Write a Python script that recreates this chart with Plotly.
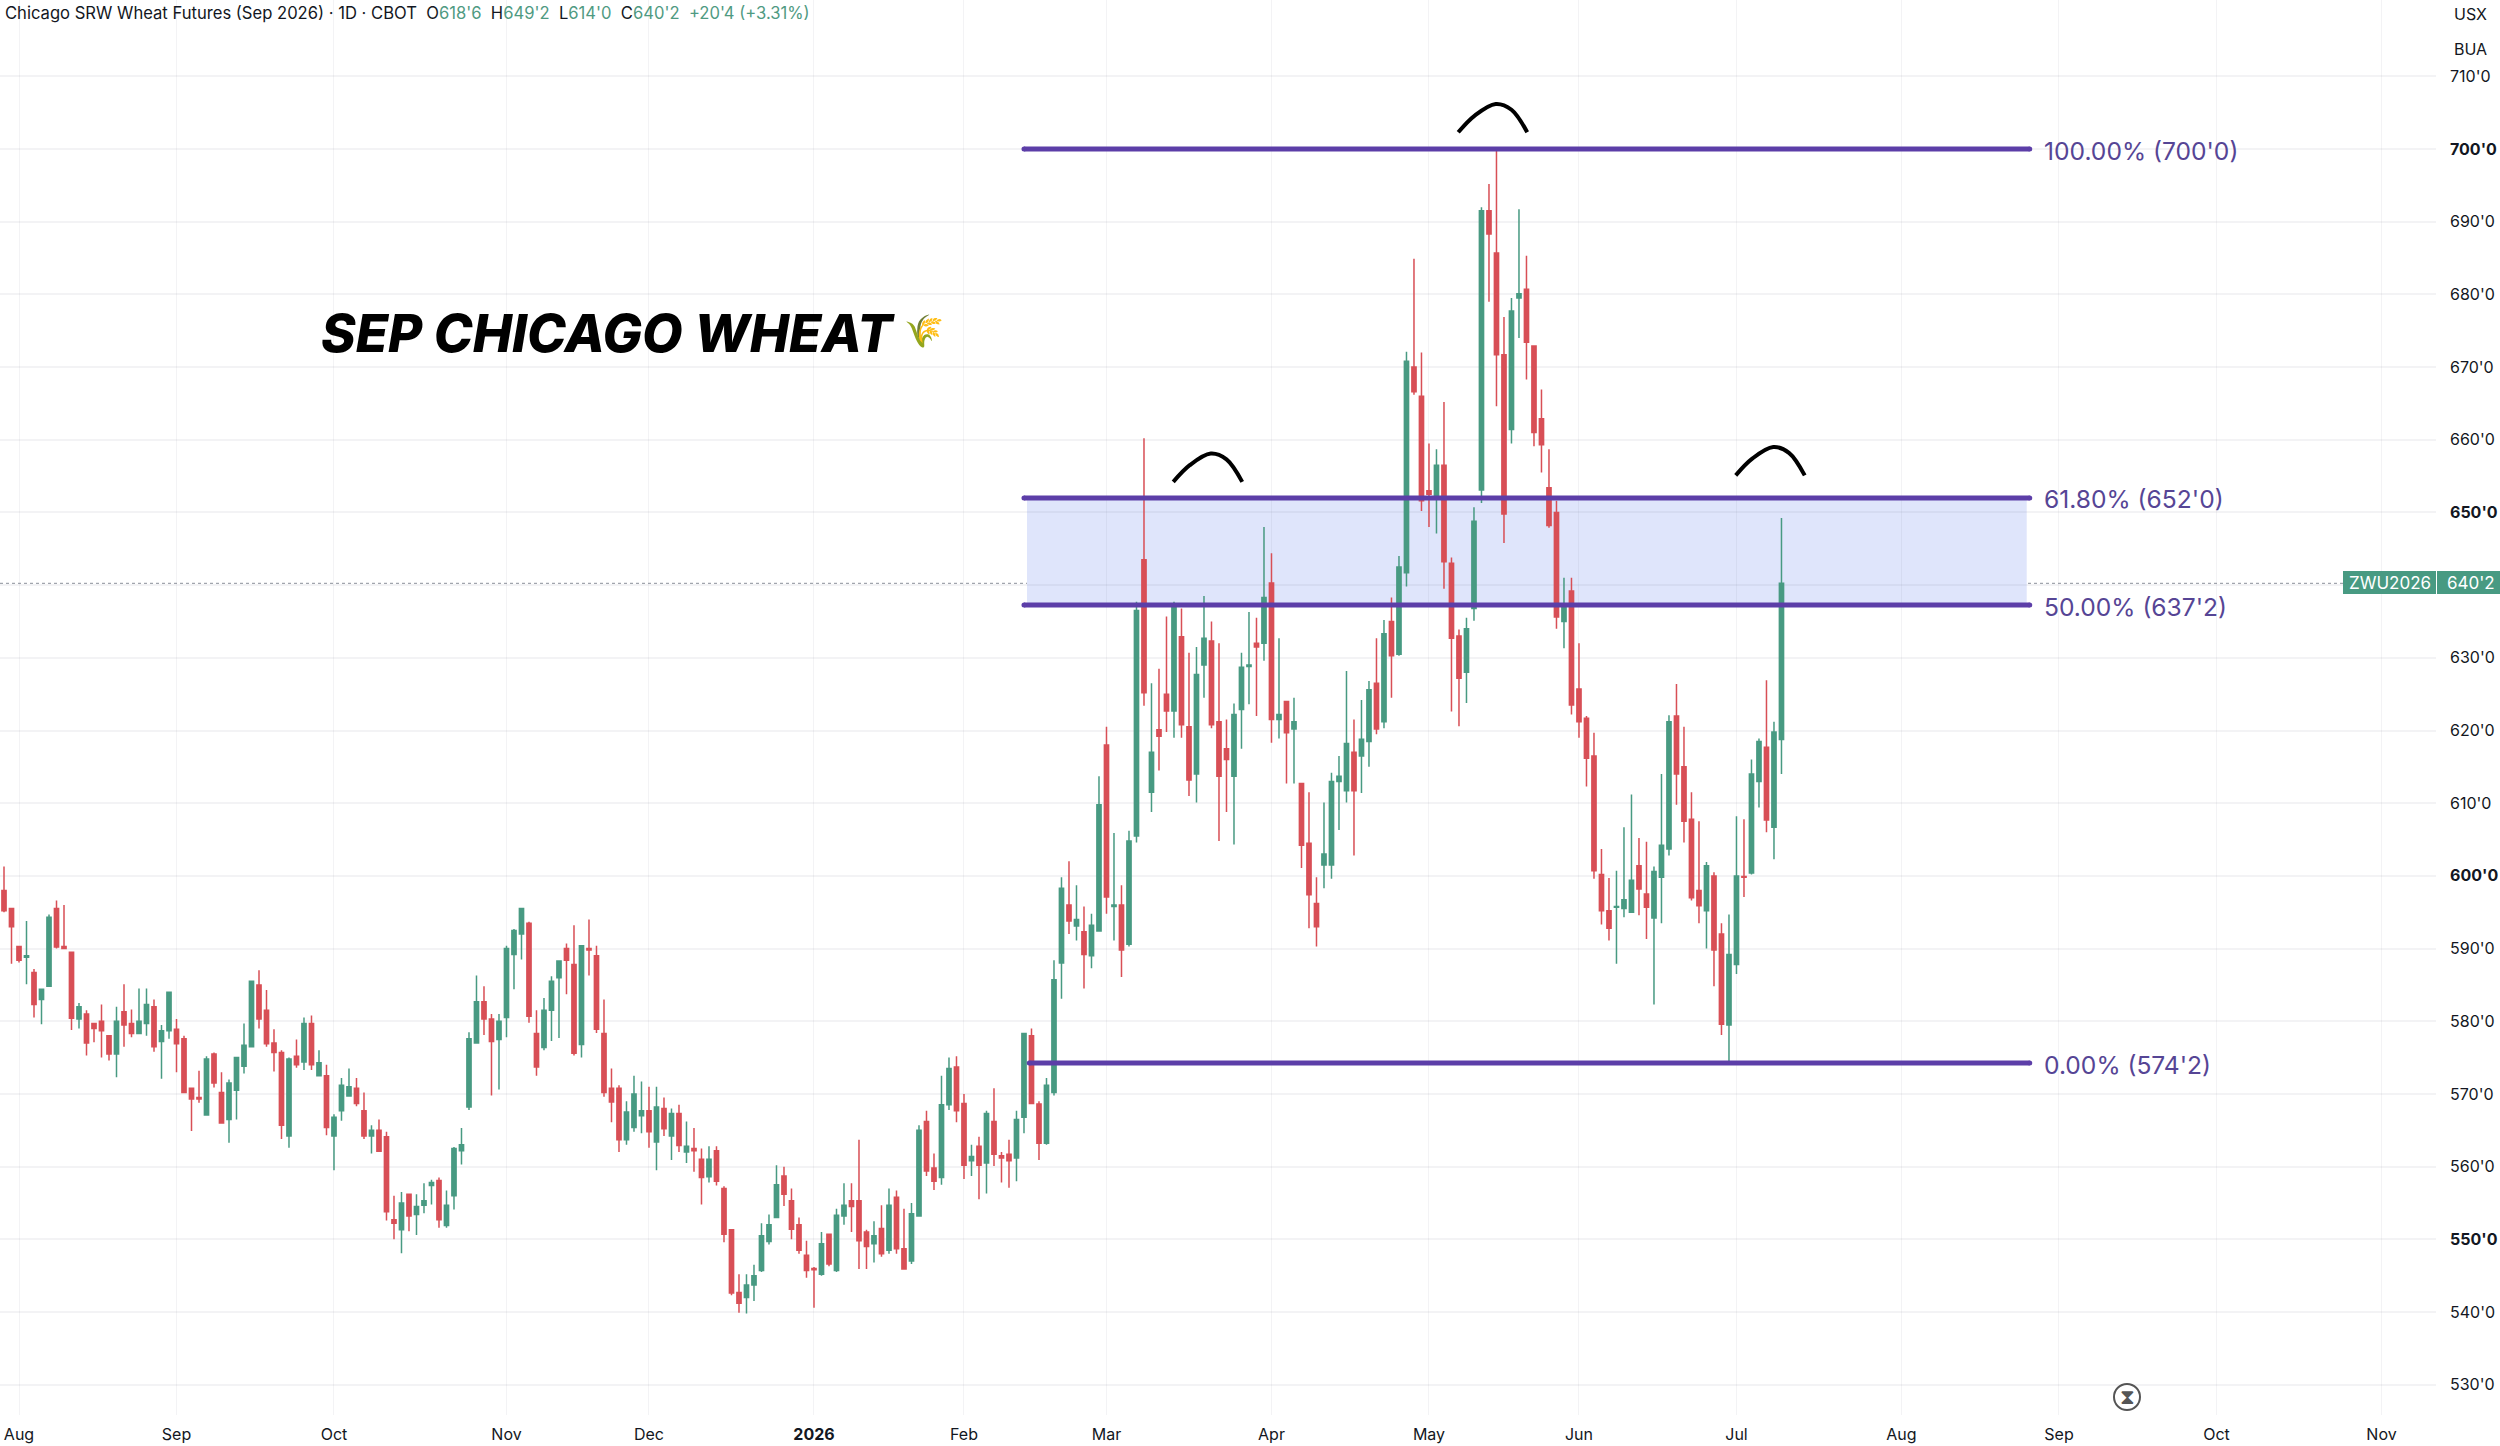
import plotly.graph_objects as go

# daily bars, Aug 2025 to Jul 2026, in cents per bushel
opens = [
    598.0, 595.5, 590.3, 588.8, 586.7, 583.0, 584.8, 595.5, 590.3, 589.5,
    580.3, 581.0, 579.7, 580.0, 578.0, 575.5, 581.3, 579.7, 578.3, 579.7,
    582.0, 577.2, 578.7, 578.9, 577.6, 570.8, 569.5, 567.1, 575.5, 570.2,
    566.5, 570.5, 573.8, 576.5, 585.0, 581.5, 577.0, 575.7, 564.2, 575.2,
    574.4, 579.7, 572.5, 572.5, 564.2, 567.7, 569.7, 570.8, 567.7, 564.2,
    565.0, 564.1, 552.7, 551.3, 556.2, 553.4, 554.7, 557.4, 558.1, 551.9,
    556.0, 562.2, 568.2, 577.0, 582.7, 580.3, 577.5, 580.5, 589.2, 592.0,
    593.5, 578.3, 576.4, 581.5, 586.0, 590.0, 587.8, 576.8, 590.0, 589.0,
    578.3, 570.8, 570.8, 563.7, 565.4, 567.0, 567.7, 563.4, 568.0, 564.2,
    567.3, 562.0, 562.5, 561.0, 558.6, 562.2, 557.0, 551.3, 542.7, 542.0,
    543.7, 545.7, 549.7, 553.0, 558.7, 555.3, 552.0, 547.8, 546.0, 545.2,
    550.7, 545.7, 553.2, 555.3, 555.3, 551.0, 549.4, 551.5, 548.5, 555.8,
    548.7, 547.0, 553.2, 566.2, 559.8, 558.5, 568.5, 573.7, 568.7, 560.8,
    562.8, 560.5, 566.2, 561.5, 561.7, 561.2, 566.8, 578.0, 568.6, 563.2,
    570.2, 588.0, 596.0, 593.1, 592.3, 589.0, 592.4, 618.0, 595.8, 596.0,
    590.6, 605.5, 643.5, 611.5, 620.1, 625.0, 622.7, 632.9, 620.5, 614.0,
    629.0, 632.3, 621.2, 617.5, 613.7, 622.9, 628.8, 632.0, 632.0, 640.3,
    621.5, 624.0, 620.2, 612.7, 604.5, 596.2, 601.5, 601.5, 613.0, 611.7,
    617.0, 616.5, 618.5, 626.5, 621.2, 635.0, 630.5, 641.7, 670.0, 666.0,
    653.0, 651.9, 656.5, 643.0, 633.0, 628.0, 636.8, 653.1, 691.5, 685.7,
    671.7, 661.4, 679.5, 680.7, 672.9, 662.9, 653.4, 650.0, 635.0, 639.2,
    625.7, 621.7, 616.5, 600.2, 595.2, 595.7, 595.5, 595.0, 601.4, 597.5,
    594.2, 599.8, 603.7, 622.0, 615.0, 607.8, 598.0, 595.2, 600.0, 592.0,
    579.5, 587.8, 599.9, 600.4, 613.0, 617.7, 606.7, 618.75,
]
highs = [
    601.3, 595.5, 590.3, 593.8, 587.2, 584.5, 594.7, 596.6, 596.0, 589.5,
    582.5, 581.5, 579.7, 582.3, 578.0, 582.0, 585.1, 581.6, 584.5, 584.5,
    583.0, 579.5, 584.0, 580.3, 578.0, 570.8, 573.2, 575.2, 575.7, 573.0,
    572.0, 575.0, 579.7, 585.5, 587.0, 584.3, 578.9, 576.0, 575.0, 577.5,
    580.5, 580.8, 576.0, 574.0, 567.2, 572.2, 573.5, 572.2, 570.2, 565.7,
    566.5, 564.8, 556.0, 556.5, 556.2, 556.2, 557.7, 558.2, 558.5, 556.7,
    562.7, 565.3, 578.5, 586.3, 584.8, 581.0, 581.0, 590.4, 592.7, 595.5,
    593.7, 581.5, 583.2, 586.2, 588.4, 590.7, 593.2, 590.4, 594.0, 590.4,
    583.0, 573.5, 571.2, 569.0, 572.5, 571.7, 571.0, 571.0, 569.5, 568.0,
    568.5, 566.2, 565.3, 562.5, 562.8, 562.8, 557.3, 551.3, 545.2, 545.2,
    546.5, 552.2, 553.4, 560.2, 560.0, 557.0, 553.0, 549.8, 546.2, 551.0,
    550.7, 554.2, 557.7, 557.7, 563.7, 551.3, 552.5, 554.7, 557.0, 556.7,
    554.2, 555.0, 565.7, 567.7, 561.8, 572.5, 575.0, 575.2, 570.0, 563.0,
    564.1, 567.7, 570.8, 562.0, 563.7, 567.7, 578.4, 579.0, 569.0, 572.2,
    588.4, 599.8, 602.0, 598.7, 595.8, 594.8, 613.7, 620.5, 605.9, 598.7,
    606.2, 637.7, 660.2, 626.5, 628.5, 635.7, 637.7, 636.8, 630.7, 631.5,
    638.5, 635.0, 632.0, 621.5, 623.7, 630.7, 636.3, 635.5, 648.0, 644.4,
    632.7, 624.0, 624.5, 612.7, 611.5, 599.8, 610.1, 614.2, 616.5, 628.2,
    621.5, 624.2, 626.8, 632.7, 635.2, 638.3, 644.0, 672.1, 684.9, 672.0,
    659.5, 658.7, 665.2, 643.8, 633.9, 635.5, 650.7, 692.0, 695.2, 700.0,
    676.9, 679.5, 691.7, 685.3, 672.9, 666.9, 658.7, 651.6, 641.0, 641.0,
    632.0, 622.0, 619.7, 603.7, 599.7, 600.7, 606.7, 611.2, 605.2, 604.7,
    601.3, 614.0, 622.1, 626.4, 620.5, 611.5, 607.5, 601.9, 600.5, 593.5,
    594.7, 608.2, 607.8, 616.0, 618.9, 626.9, 621.2, 649.25,
]
lows = [
    595.0, 587.9, 588.1, 585.1, 580.5, 579.6, 584.8, 590.0, 589.9, 578.8,
    579.0, 575.3, 577.1, 575.0, 574.6, 572.3, 576.5, 577.8, 578.3, 578.0,
    575.8, 572.1, 577.6, 573.0, 570.2, 564.9, 568.8, 567.0, 570.9, 566.0,
    563.3, 566.5, 572.8, 576.5, 579.0, 576.5, 573.1, 563.8, 562.6, 573.6,
    573.3, 573.3, 572.5, 564.3, 559.5, 566.3, 569.7, 568.3, 563.8, 561.8,
    562.1, 552.6, 550.0, 548.1, 551.1, 550.6, 553.6, 554.8, 551.6, 551.6,
    554.1, 560.3, 567.8, 577.0, 578.1, 569.8, 570.6, 577.8, 584.4, 588.5,
    579.8, 572.5, 576.0, 577.3, 577.7, 583.7, 575.3, 575.0, 586.3, 578.4,
    569.6, 566.1, 562.0, 563.0, 564.8, 564.6, 562.6, 559.5, 564.2, 560.9,
    562.0, 560.5, 559.3, 554.8, 557.8, 557.4, 549.6, 542.3, 539.9, 539.8,
    541.5, 545.5, 549.3, 553.0, 554.6, 550.0, 548.0, 544.7, 540.6, 545.0,
    546.3, 545.5, 552.0, 551.0, 545.9, 545.9, 546.8, 547.6, 548.0, 548.0,
    545.9, 546.6, 553.1, 558.7, 556.8, 557.5, 567.8, 566.1, 558.3, 558.7,
    555.5, 556.3, 560.1, 557.8, 557.1, 558.0, 564.6, 568.6, 560.9, 563.0,
    569.8, 583.1, 592.0, 591.1, 584.5, 587.3, 592.4, 594.8, 591.1, 586.1,
    590.3, 604.6, 623.4, 608.8, 614.5, 619.8, 619.0, 619.0, 611.0, 610.1,
    624.5, 620.3, 604.8, 608.8, 604.3, 617.5, 623.6, 622.0, 629.6, 618.3,
    618.9, 612.7, 612.7, 601.1, 592.8, 590.3, 598.3, 599.6, 606.3, 610.1,
    602.8, 611.4, 615.0, 619.5, 620.3, 624.5, 630.3, 639.8, 666.2, 650.2,
    648.0, 647.1, 639.5, 622.6, 620.6, 623.8, 635.1, 651.3, 679.0, 664.6,
    645.8, 659.5, 674.0, 668.3, 659.1, 655.5, 647.9, 634.0, 631.3, 622.2,
    619.0, 612.3, 599.6, 593.3, 591.1, 587.9, 594.3, 595.0, 594.6, 591.3,
    582.3, 593.5, 602.8, 609.8, 604.6, 596.6, 593.5, 590.0, 584.8, 578.1,
    574.25, 586.5, 597.1, 600.2, 609.4, 606.0, 602.3, 614.0,
]
closes = [
    595.2, 593.0, 588.4, 589.0, 582.3, 584.4, 594.3, 590.2, 590.0, 580.4,
    582.0, 577.0, 579.0, 578.7, 575.5, 580.0, 579.5, 578.3, 580.0, 582.3,
    576.5, 578.7, 584.0, 576.9, 570.2, 569.3, 569.3, 574.8, 571.5, 566.0,
    571.5, 575.0, 576.7, 585.5, 580.3, 576.9, 575.7, 565.7, 574.8, 574.0,
    579.7, 574.0, 574.3, 565.4, 566.8, 571.2, 571.0, 568.7, 564.2, 565.0,
    562.1, 553.8, 552.2, 555.0, 553.2, 554.5, 555.3, 557.8, 552.7, 554.7,
    562.5, 563.0, 577.6, 582.7, 580.3, 577.2, 580.0, 590.0, 592.5, 595.5,
    580.7, 573.7, 581.5, 585.5, 588.3, 588.4, 575.6, 590.4, 589.8, 578.9,
    570.2, 568.9, 563.7, 567.5, 570.0, 567.7, 564.8, 568.2, 565.2, 567.3,
    562.9, 562.8, 562.2, 558.5, 561.0, 558.0, 550.7, 542.6, 541.2, 543.7,
    545.0, 550.5, 552.0, 557.5, 556.2, 551.4, 548.5, 545.7, 545.8, 549.4,
    546.6, 553.3, 554.7, 554.5, 549.8, 549.0, 550.5, 548.0, 554.7, 548.7,
    545.9, 553.5, 565.0, 559.4, 558.0, 568.5, 573.5, 567.7, 560.2, 561.4,
    560.2, 567.3, 561.7, 561.2, 560.8, 566.5, 578.3, 568.7, 563.2, 571.2,
    585.7, 598.3, 593.8, 594.0, 589.2, 593.2, 609.8, 597.1, 596.0, 589.8,
    604.8, 636.5, 625.2, 617.0, 619.2, 622.7, 637.2, 620.8, 613.2, 627.7,
    632.7, 620.8, 613.7, 616.0, 622.2, 628.7, 629.0, 631.5, 638.3, 621.5,
    622.2, 619.7, 621.2, 604.2, 597.4, 593.0, 603.0, 613.0, 613.7, 618.2,
    611.7, 618.8, 625.6, 620.2, 633.3, 630.3, 642.5, 670.8, 666.6, 651.6,
    652.5, 656.5, 643.2, 632.7, 627.2, 634.0, 648.8, 691.5, 688.3, 671.7,
    649.8, 677.7, 680.1, 673.4, 661.0, 659.3, 648.2, 635.6, 637.4, 623.5,
    621.2, 616.2, 600.7, 595.2, 592.8, 595.8, 596.7, 599.4, 598.2, 595.7,
    600.6, 604.2, 621.2, 614.0, 607.5, 597.0, 595.9, 601.4, 589.8, 579.6,
    589.2, 600.0, 599.8, 614.0, 618.5, 607.7, 619.8, 640.25,
]

month_bars = [2, 23, 44, 67, 86, 108, 128, 147, 169, 190, 210, 231, 253, 274, 295, 317]
month_labels = ["Aug", "Sep", "Oct", "Nov", "Dec", "<b>2026</b>", "Feb", "Mar", "Apr", "May",
                "Jun", "Jul", "Aug", "Sep", "Oct", "Nov"]
price_ticks = [530, 540, 550, 560, 570, 580, 590, 600, 610, 620,
               630, 640, 650, 660, 670, 680, 690, 700, 710]
price_labels = ["530'0", "540'0", "<b>550'0</b>", "560'0", "570'0", "580'0", "590'0", "<b>600'0</b>",
                "610'0", "620'0", "630'0", "", "<b>650'0</b>", "660'0", "670'0", "680'0", "690'0",
                "<b>700'0</b>", "710'0"]

fib_levels = [700.0, 652.0, 637.25, 574.25]
fib_labels = ["100.00% (700'0)", "61.80% (652'0)", "50.00% (637'2)", "0.00% (574'2)"]
fib_start = [136.0, 136.0, 136.0, 136.7]
fib_end = 270.1

# hand drawn arches over the three peaks
arc_left_x = [155.9, 158.1, 160.9, 163.0, 165.1]
arc_left_y = [654.2, 656.5, 658.1, 657.3, 654.2]
arc_top_x = [193.9, 196.1, 198.9, 201.0, 203.1]
arc_top_y = [702.3, 704.6, 706.2, 705.4, 702.3]
arc_right_x = [230.9, 233.1, 235.9, 238.0, 240.1]
arc_right_y = [655.1, 657.4, 659.0, 658.2, 655.1]

last_price = 640.25

GREEN = "#489a82"
RED = "#d84f56"
PURPLE = "#5c3ea8"
TEXT_PURPLE = "#564595"
GRID = "rgba(120,125,140,0.09)"
FONT = "Inter"

PLOT_W = 2436
PLOT_H = 1415


def px_x(px):
    return px / PLOT_W


def px_y(py):
    return 1 - py / PLOT_H


fig = go.Figure()

for level, start in zip(fib_levels, fib_start):
    fig.add_trace(go.Scatter(
        x=[start, fib_end], y=[level, level], mode="lines+markers",
        line=dict(color=PURPLE, width=5), marker=dict(color=PURPLE, size=5),
        hoverinfo="skip",
    ))

fig.add_trace(go.Candlestick(
    x=list(range(len(closes))), open=opens, high=highs, low=lows, close=closes,
    whiskerwidth=0,
    increasing=dict(line=dict(color=GREEN, width=1.5), fillcolor=GREEN),
    decreasing=dict(line=dict(color=RED, width=1.5), fillcolor=RED),
))

for ax, ay in [(arc_left_x, arc_left_y), (arc_top_x, arc_top_y), (arc_right_x, arc_right_y)]:
    fig.add_trace(go.Scatter(
        x=ax, y=ay, mode="lines", line=dict(color="black", width=4, shape="spline"),
        hoverinfo="skip",
    ))

shapes = [
    # golden zone between 50 and 61.8
    dict(type="rect", layer="below", xref="x", yref="y", x0=136.4, x1=269.7,
         y0=fib_levels[2], y1=fib_levels[1], fillcolor="#dfe5fb", line=dict(width=0)),
    dict(type="line", layer="below", xref="paper", yref="y", x0=0, x1=px_x(2343),
         y0=last_price, y1=last_price, line=dict(color="#8a8f99", width=1, dash="dot")),
    dict(type="rect", layer="above", xref="paper", yref="paper", x0=px_x(2438), x1=px_x(2500),
         y0=px_y(0), y1=px_y(64), fillcolor="white", line=dict(width=0)),
    dict(type="rect", layer="above", xref="paper", yref="paper", x0=px_x(2343), x1=px_x(2436),
         y0=px_y(571), y1=px_y(594), fillcolor=GREEN, line=dict(width=0)),
    dict(type="rect", layer="above", xref="paper", yref="paper", x0=px_x(2437), x1=px_x(2500),
         y0=px_y(571), y1=px_y(594), fillcolor=GREEN, line=dict(width=0)),
    dict(type="circle", layer="above", xref="paper", yref="paper", x0=px_x(2114), x1=px_x(2140),
         y0=px_y(1384), y1=px_y(1410), fillcolor="white", line=dict(color="#555555", width=2)),
]

header = (
    "Chicago SRW Wheat Futures (Sep 2026) · 1D · CBOT  "
    "O<span style='color:#4f9a82'>618'6</span>  H<span style='color:#4f9a82'>649'2</span>  "
    "L<span style='color:#4f9a82'>614'0</span>  C<span style='color:#4f9a82'>640'2</span>  "
    "<span style='color:#4f9a82'>+20'4 (+3.31%)</span>"
)

annotations = [
    dict(text=header, xref="paper", yref="paper", x=px_x(3), y=px_y(13), xanchor="left", yanchor="middle",
         showarrow=False, font=dict(family=FONT, size=16.6, color="#131722")),
    dict(text="SEP CHICAGO WHEAT", xref="paper", yref="paper", x=px_x(319), y=px_y(333),
         xanchor="left", yanchor="middle", showarrow=False,
         font=dict(family=FONT, size=52.5, color="black", weight=800, style="italic")),
    dict(text="🌾", xref="paper", yref="paper", x=px_x(924), y=px_y(330), xanchor="center", yanchor="middle",
         showarrow=False, font=dict(size=32)),
    dict(text="USX", xref="paper", yref="paper", x=px_x(2470), y=px_y(14), xanchor="center", yanchor="middle",
         showarrow=False, font=dict(family=FONT, size=16, color="#131722")),
    dict(text="BUA", xref="paper", yref="paper", x=px_x(2470), y=px_y(49), xanchor="center", yanchor="middle",
         showarrow=False, font=dict(family=FONT, size=16, color="#131722")),
    dict(text="ZWU2026", xref="paper", yref="paper", x=px_x(2390), y=px_y(583), xanchor="center", yanchor="middle",
         showarrow=False, font=dict(family=FONT, size=17, color="white")),
    dict(text="640'2", xref="paper", yref="paper", x=px_x(2471), y=px_y(583), xanchor="center", yanchor="middle",
         showarrow=False, font=dict(family=FONT, size=17, color="white")),
    dict(text="⧗", xref="paper", yref="paper", x=px_x(2127), y=px_y(1397), xanchor="center", yanchor="middle",
         showarrow=False, font=dict(family="DejaVu Sans", size=21, color="#555555")),
]
for level, label in zip(fib_levels, fib_labels):
    annotations.append(dict(
        text=label, x=271.7, y=level, xref="x", yref="y", xanchor="left", yanchor="middle", yshift=-1.5,
        showarrow=False, font=dict(family=FONT, size=24.6, color=TEXT_PURPLE),
    ))

fig.update_layout(
    width=2500, height=1446,
    margin=dict(l=0, r=64, t=0, b=31),
    paper_bgcolor="white", plot_bgcolor="white",
    showlegend=False, boxgap=0.2,
    shapes=shapes, annotations=annotations,
    font=dict(family=FONT, color="#131722"),
    xaxis=dict(
        range=[-0.533, 324.27], tickmode="array", tickvals=month_bars, ticktext=month_labels,
        showgrid=True, gridcolor=GRID, gridwidth=1, zeroline=False, showline=False,
        rangeslider=dict(visible=False), ticks="", ticklabelstandoff=8,
        tickfont=dict(family=FONT, size=16, color="#131722"),
    ),
    yaxis=dict(
        range=[525.83, 720.5], side="right", tickmode="array", tickvals=price_ticks, ticktext=price_labels,
        showgrid=True, gridcolor=GRID, gridwidth=2, zeroline=False, showline=False,
        ticks="", ticklabelstandoff=13, tickfont=dict(family=FONT, size=16, color="#131722"),
    ),
)

fig.write_html("out.html", post_script="document.body.style.margin='0';",
               config=dict(displayModeBar=False))
